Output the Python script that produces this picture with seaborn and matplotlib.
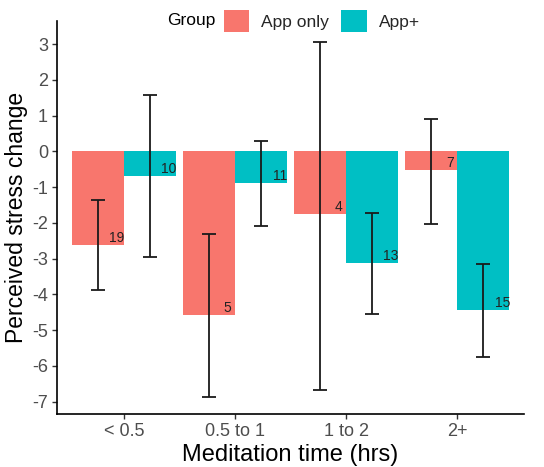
import matplotlib
matplotlib.use("Agg")
import matplotlib.pyplot as plt
import seaborn as sns
import pandas as pd
import numpy as np
from matplotlib.patches import Patch

categories = ["< 0.5", "0.5 to 1", "1 to 2", "2+"]
groups = ["App only", "App+"]
app_only_mean = [-2.62, -4.57, -1.74, -0.53]
app_plus_mean = [-0.69, -0.87, -3.12, -4.43]
app_only_lo = [-3.87, -6.87, -6.67, -2.02]
app_only_hi = [-1.36, -2.30, 3.05, 0.90]
app_plus_lo = [-2.95, -2.08, -4.55, -5.75]
app_plus_hi = [1.57, 0.28, -1.72, -3.14]
app_only_n = [19, 5, 4, 7]
app_plus_n = [10, 11, 13, 15]
yticks = [3, 2, 1, 0, -1, -2, -3, -4, -5, -6, -7]
colors = ["#F8766D", "#00BFC4"]

df = pd.DataFrame({
    "time": categories * 2,
    "Group": [groups[0]] * 4 + [groups[1]] * 4,
    "mean": app_only_mean + app_plus_mean,
    "lo": app_only_lo + app_plus_lo,
    "hi": app_only_hi + app_plus_hi,
    "n": app_only_n + app_plus_n,
})

sns.set_theme(style="ticks")
plt.rcParams["font.family"] = ["Liberation Sans", "DejaVu Sans"]

fig = plt.figure(figsize=(5.44, 4.67), dpi=100)
ax = fig.add_axes([0.105, 0.113, 0.858, 0.842])

sns.barplot(data=df, x="time", y="mean", hue="Group", order=categories,
            hue_order=groups, palette=colors, errorbar=None, width=0.94,
            saturation=1, linewidth=0, ax=ax, legend=False)

bars = [p for p in ax.patches if p.get_width() > 0]
for i, p in enumerate(bars[:8]):
    row = df.iloc[i]
    xc = p.get_x() + p.get_width() / 2
    ax.errorbar(xc, row["mean"], yerr=[[row["mean"] - row["lo"]], [row["hi"] - row["mean"]]],
                fmt="none", ecolor="#1a1a1a", elinewidth=1.3, capsize=5, capthick=1.3, zorder=4)
    ax.text(xc + 0.17, row["mean"], str(int(row["n"])), ha="center", va="bottom",
            fontsize=10, color="#222222", zorder=5)

ax.set_xlim(-0.6, 3.6)
ax.set_ylim(-7.35, 3.65)
ax.set_yticks(yticks)
ax.set_yticklabels([str(t) for t in yticks])
ax.set_xlabel("Meditation time (hrs)", fontsize=17, color="black", labelpad=3)
ax.set_ylabel("Perceived stress change", fontsize=16.5, color="black", labelpad=3)
ax.tick_params(axis="both", labelsize=13, colors="#4D4D4D", length=3.5, width=1, pad=3)
ax.tick_params(axis="both", color="#333333")
for s in ["top", "right"]:
    ax.spines[s].set_visible(False)
for s in ["left", "bottom"]:
    ax.spines[s].set_linewidth(1.2)
    ax.spines[s].set_color("black")

handles = [Patch(facecolor=c, edgecolor="none") for c in colors]
fig.text(167 / 544, 1 - 21 / 467, "Group", ha="left", va="center", fontsize=12.5, color="black")
leg = fig.legend(handles, groups, loc="center left", bbox_to_anchor=(224 / 544, 1 - 21 / 467),
                 ncol=2, frameon=False, fontsize=12.5,
                 handlelength=1.45, handleheight=1.6, handletextpad=0.7, columnspacing=0.7,
                 borderpad=0, borderaxespad=0)

fig.savefig("out.png", dpi=100)
